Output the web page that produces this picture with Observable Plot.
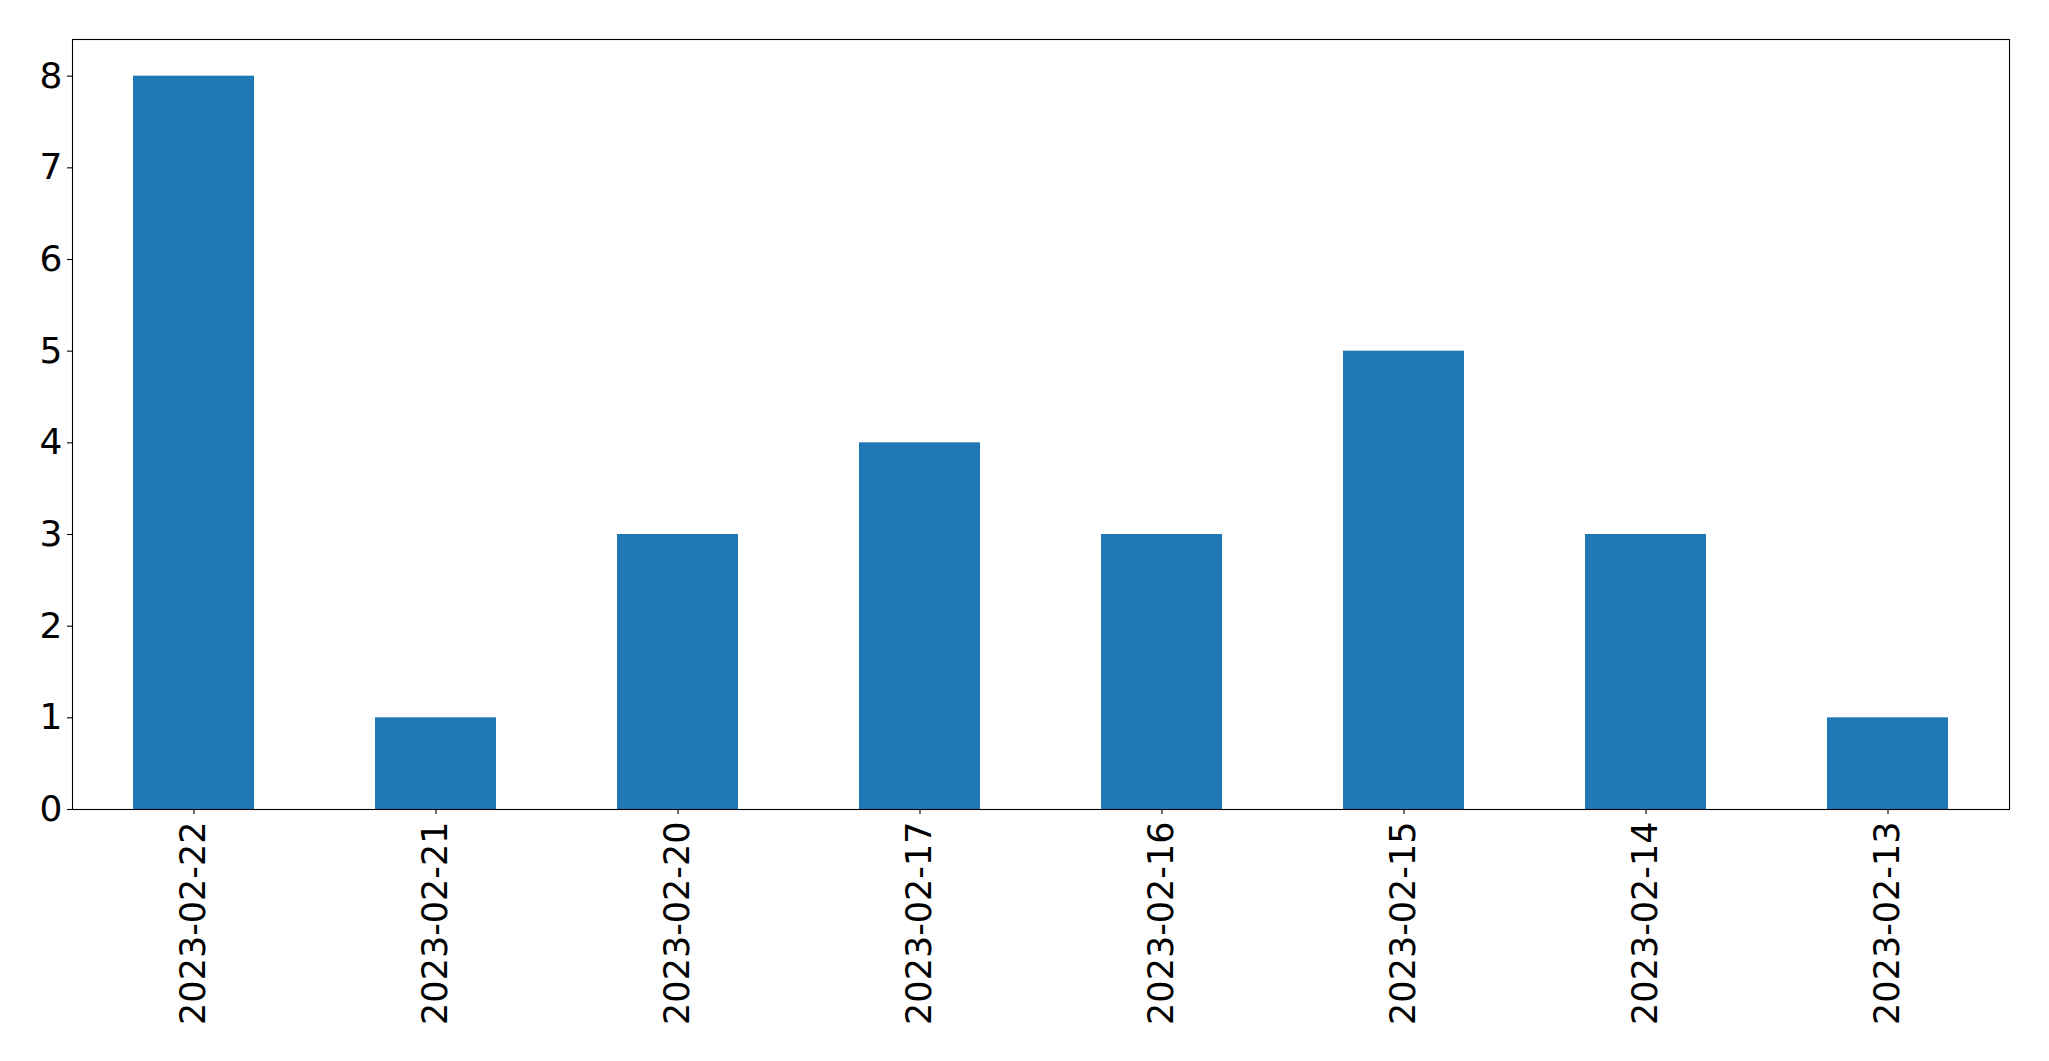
<!DOCTYPE html>
<html>
<head>
<meta charset="utf-8">
<script src="https://cdn.jsdelivr.net/npm/d3@7"></script>
<script src="https://cdn.jsdelivr.net/npm/@observablehq/plot@0.6"></script>
<style>
  html, body { margin: 0; padding: 0; background: #fff; }
  #chart svg { display: block; }
</style>
</head>
<body>
<div id="chart"></div>
<script>
const dates = ["2023-02-22", "2023-02-21", "2023-02-20", "2023-02-17", "2023-02-16", "2023-02-15", "2023-02-14", "2023-02-13"];
const counts = [8, 1, 3, 4, 3, 5, 3, 1];
const yTicks = [0, 1, 2, 3, 4, 5, 6, 7, 8];

const data = dates.map((d, i) => ({date: d, count: counts[i]}));

const chart = Plot.plot({
  width: 2049,
  height: 1061,
  marginLeft: 72,
  marginRight: 40,
  marginTop: 39,
  marginBottom: 252,
  style: {fontFamily: "DejaVu Sans", fontSize: "35px", color: "#000", background: "#fff"},
  x: {type: "band", domain: dates, paddingInner: 0.5, paddingOuter: 0.25, label: null},
  y: {domain: [0, 8.4], label: null},
  marks: [
    Plot.barY(data, {x: "date", y: "count", fill: "#1f77b4"}),
    Plot.frame({stroke: "#000", strokeWidth: 1.1}),
    Plot.axisY({ticks: yTicks, tickSize: 5, tickPadding: 5, tickFormat: d => String(d), label: null, stroke: "#000", strokeWidth: 1.1, fontSize: 36}),
    Plot.axisX({tickSize: 5, tickPadding: 7, tickRotate: -90, label: null, stroke: "#000", strokeWidth: 1.1, fontSize: 35})
  ]
});
document.getElementById("chart").appendChild(chart);
</script>
</body>
</html>
